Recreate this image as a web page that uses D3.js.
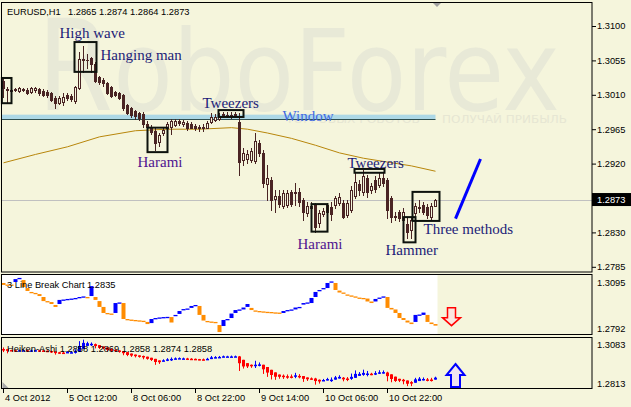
<!DOCTYPE html>
<html><head><meta charset="utf-8">
<script src="https://cdn.jsdelivr.net/npm/d3@7"></script>
<style>html,body{margin:0;padding:0;background:#F5F5DC;}svg{display:block;}</style>
</head><body>
<svg id="c" width="631" height="407"></svg>
<script>
// ---------- DATA (EURUSD H1) ----------
const opens = [
1.3028,1.3018,1.3016,1.3016,1.3015,1.3018,1.3016,1.3014,1.3016,1.3018,
1.3015,1.3014,1.3012,1.3006,1.2999,1.3000,1.3010,1.3008,1.3002,1.3019,
1.3057,1.3056,1.3058,1.3050,1.3033,1.3029,1.3025,1.3020,1.3014,1.3012,
1.3010,1.2997,1.2993,1.2989,1.2986,1.2985,1.2972,1.2968,1.2963,1.2948,
1.2960,1.2967,1.2968,1.2970,1.2976,1.2972,1.2973,1.2972,1.2969,1.2968,
1.2967,1.2967,1.2974,1.2977,1.2978,1.2985,1.2984,1.2984,1.2985,1.2974,
1.2925,1.2926,1.2925,1.2924,1.2947,1.2934,1.2893,1.2899,1.2874,1.2878,
1.2865,1.2866,1.2883,1.2882,1.2883,1.2872,1.2855,1.2865,1.2866,1.2842,
1.2854,1.2857,1.2863,1.2866,1.2868,1.2868,1.2853,1.2859,1.2878,1.2893,
1.2883,1.2901,1.2886,1.2899,1.2892,1.2901,1.2899,1.2875,1.2850,1.2857,
1.2846,1.2841,1.2833,1.2855,1.2862,1.2866,1.2863,1.2850,1.2865];
const highs = [
1.3032,1.3020,1.3019,1.3019,1.3020,1.3019,1.3019,1.3020,1.3020,1.3019,
1.3018,1.3016,1.3014,1.3008,1.3008,1.3012,1.3012,1.3011,1.3022,1.3066,
1.3074,1.3063,1.3059,1.3053,1.3035,1.3032,1.3027,1.3021,1.3015,1.3014,
1.3011,1.2998,1.2994,1.2990,1.2988,1.2988,1.2976,1.2970,1.2966,1.2960,
1.2968,1.2974,1.2978,1.2978,1.2978,1.2977,1.2976,1.2974,1.2972,1.2970,
1.2972,1.2976,1.2986,1.2985,1.2986,1.2988,1.2987,1.2988,1.2988,1.2986,
1.2940,1.2938,1.2940,1.2960,1.2951,1.2938,1.2918,1.2902,1.2886,1.2886,
1.2886,1.2886,1.2886,1.2895,1.2888,1.2875,1.2870,1.2870,1.2868,1.2859,
1.2862,1.2868,1.2870,1.2878,1.2882,1.2872,1.2872,1.2891,1.2908,1.2899,
1.2912,1.2905,1.2895,1.2904,1.2909,1.2908,1.2901,1.2878,1.2857,1.2859,
1.2862,1.2849,1.2850,1.2868,1.2872,1.2870,1.2867,1.2868,1.2874];
const lows = [
1.3007,1.3000,1.3014,1.3015,1.3014,1.3015,1.3011,1.3012,1.3014,1.3010,
1.3008,1.3007,1.3002,1.2993,1.2998,1.2997,1.3003,1.3002,1.2999,1.3018,
1.3040,1.3045,1.3040,1.3027,1.3024,1.3022,1.3011,1.3007,1.3008,1.3004,
1.2990,1.2985,1.2981,1.2978,1.2977,1.2968,1.2966,1.2959,1.2938,1.2943,
1.2958,1.2958,1.2959,1.2969,1.2970,1.2969,1.2964,1.2966,1.2964,1.2963,
1.2963,1.2966,1.2973,1.2976,1.2977,1.2981,1.2981,1.2980,1.2981,1.2905,
1.2918,1.2921,1.2922,1.2921,1.2930,1.2889,1.2873,1.2859,1.2857,1.2863,
1.2862,1.2863,1.2865,1.2866,1.2865,1.2846,1.2851,1.2857,1.2831,1.2837,
1.2851,1.2854,1.2846,1.2862,1.2866,1.2849,1.2850,1.2857,1.2875,1.2879,
1.2879,1.2876,1.2882,1.2883,1.2889,1.2891,1.2849,1.2844,1.2846,1.2845,
1.2833,1.2823,1.2823,1.2851,1.2857,1.2854,1.2849,1.2848,1.2864];
const closes = [
1.3019,1.3016,1.3015,1.3017,1.3019,1.3016,1.3012,1.3019,1.3019,1.3012,
1.3010,1.3010,1.3003,1.2999,1.3006,1.3007,1.3006,1.3004,1.3020,1.3057,
1.3056,1.3055,1.3050,1.3028,1.3027,1.3025,1.3012,1.3008,1.3010,1.3006,
1.2993,1.2986,1.2984,1.2982,1.2980,1.2972,1.2968,1.2961,1.2947,1.2958,
1.2964,1.2972,1.2976,1.2976,1.2973,1.2974,1.2966,1.2967,1.2966,1.2966,
1.2968,1.2973,1.2981,1.2981,1.2982,1.2983,1.2983,1.2982,1.2983,1.2922,
1.2934,1.2933,1.2936,1.2950,1.2934,1.2895,1.2901,1.2873,1.2878,1.2867,
1.2882,1.2882,1.2867,1.2883,1.2870,1.2857,1.2865,1.2862,1.2837,1.2855,
1.2858,1.2866,1.2854,1.2875,1.2876,1.2850,1.2868,1.2886,1.2896,1.2886,
1.2904,1.2883,1.2891,1.2887,1.2901,1.2895,1.2859,1.2850,1.2851,1.2849,
1.2857,1.2831,1.2846,1.2865,1.2863,1.2857,1.2853,1.2865,1.2873];

// moving average, read at selected bars
const maBars   = [0,8,16,24,33,41,49,57,61,66,72,78,84,90,96,102,108];
const maValues = [1.2921,1.2932,1.2942,1.2955,1.2963,1.2965,1.2965,1.2967,1.2965,1.2960,1.2953,1.2944,1.2934,1.2927,1.2922,1.2917,1.2910];

// 3 Line Break: segment per bar (from -> to)
const lbFrom = [
1.3054,1.3046,1.3046,1.3059,1.3074,1.3069,1.3028,1.3008,1.3003,1.2997,
1.2982,1.2961,1.2956,1.2941,1.2946,1.2967,1.2969,1.2972,1.2974,1.2977,
1.2982,1.2982,1.2987,1.2982,1.2961,1.2931,1.2900,1.2897,1.2900,1.2951,
1.2951,1.2869,1.2866,1.2864,1.2862,1.2860,1.2854,1.2848,1.2872,1.2874,
1.2877,1.2879,1.2879,1.2884,1.2895,1.2915,1.2920,1.2926,1.2938,1.2936,
1.2890,1.2859,1.2856,1.2854,1.2838,1.2833,1.2864,1.2874,1.2900,1.2915,
1.2918,1.2931,1.2926,1.2913,1.2910,1.2908,1.2906,1.2905,1.2903,1.2902,
1.2900,1.2910,1.2915,1.2918,1.2928,1.2943,1.2951,1.2951,1.2982,1.3013,
1.3023,1.3028,1.3059,1.3054,1.3015,1.3005,1.2995,1.2990,1.2985,1.2979,
1.2977,1.2974,1.2959,1.2959,1.2977,1.2982,1.2982,1.2926,1.2918,1.2900,
1.2874,1.2861,1.2851,1.2854,1.2890,1.2890,1.2890,1.2851,1.2843];
const lbTo = [
1.3044,1.3044,1.3044,1.3074,1.3080,1.3033,1.3013,1.3003,1.3000,1.2987,
1.2961,1.2959,1.2946,1.2931,1.2967,1.2969,1.2972,1.2974,1.2977,1.2982,
1.2985,1.2979,1.3038,1.2967,1.2931,1.2900,1.2897,1.2895,1.2951,1.2954,
1.2869,1.2866,1.2864,1.2862,1.2860,1.2854,1.2843,1.2869,1.2874,1.2877,
1.2879,1.2880,1.2851,1.2890,1.2910,1.2920,1.2923,1.2936,1.2941,1.2890,
1.2861,1.2856,1.2854,1.2851,1.2802,1.2864,1.2869,1.2897,1.2915,1.2918,
1.2928,1.2946,1.2915,1.2910,1.2908,1.2906,1.2905,1.2903,1.2902,1.2900,
1.2910,1.2915,1.2918,1.2928,1.2931,1.2951,1.2954,1.2977,1.3008,1.3018,
1.3028,1.3054,1.3062,1.3018,1.3005,1.3000,1.2992,1.2987,1.2982,1.2977,
1.2974,1.2959,1.2951,1.2972,1.2979,1.2985,1.2926,1.2918,1.2900,1.2874,
1.2864,1.2851,1.2843,1.2890,1.2892,1.2902,1.2854,1.2843,1.2835];

const priceTicks = [1.3100,1.3055,1.3010,1.2965,1.2920,1.2830,1.2785];
const lastPrice = 1.2873;
const lbScaleLabels = [1.3095,1.2792];
const haScaleLabels = [1.3083,1.2813];
const haTitleValues = ["1.2858","1.2869","1.2858","1.2874","1.2858"];
const timeLabels = ["4 Oct 2012","5 Oct 12:00","8 Oct 06:00","8 Oct 22:00","9 Oct 14:00","10 Oct 06:00","10 Oct 22:00"];
const timeLabelBars = [0,16,32,48,64,80,96];

// window band (price range)
const windowHigh = 1.2984, windowLow = 1.2978;

// pattern annotations (bar ranges and price ranges)
const boxFrom = [-0.4,17.75,36,53.75,87.75,77,100,102.25];
const boxTo   = [2,23.25,41,60,95.25,81,103,109];
const boxHigh = [1.3032,1.3079,1.2967,1.2990,1.2913,1.2867,1.2850,1.2883];
const boxLow  = [1.2999,1.3040,1.2935,1.2981,1.2908,1.2831,1.2817,1.2845];
const labelTexts  = ["High wave","Hanging man","Tweezers","Window","Harami","Tweezers","Harami","Hammer","Three methods"];
const labelBars   = [14,24.25,49.75,69.75,33.5,86,73.5,95.5,105];
const labelPrices = [1.3084,1.3056,1.2993,1.2976,1.2916,1.2914,1.2808,1.2800,1.2828];
const trendBars   = [113,119.25];
const trendPrices = [1.2848,1.2926];

// ---------- DRAW ----------
const W=631,H=407, BG="#F5F5DC", CANDLE="#4a2424", SMALL="Liberation Sans", FS=9.3;
const n = closes.length;
const svg = d3.select("#c");
const x = d3.scaleLinear().domain([0,n-1]).range([3.5,435.5]);
const yM = d3.scaleLinear().domain([1.2785,1.3100]).range([266.8,26]);
const yLB = d3.scaleLinear().domain([1.2792,1.3095]).range([334,275]);
const yHA = d3.scaleLinear().domain([1.2813,1.3083]).range([388,338]);

svg.append("rect").attr("width",W).attr("height",H).attr("fill",BG);

// watermark
const wm = svg.append("text").attr("x",37).attr("y",110)
  .attr("font-family","DejaVu Sans").attr("font-size",112).attr("fill","#e8e9d7")
  .attr("textLength",523).attr("lengthAdjust","spacingAndGlyphs");
wm.append("tspan").attr("font-size",126).text("R");
wm.append("tspan").text("oboForex");
svg.append("text").attr("x",286).attr("y",123).attr("font-family","DejaVu Sans").attr("font-size",10.5)
  .attr("fill","#e6e6d3").attr("textLength",134).attr("lengthAdjust","spacingAndGlyphs").text("ТОРГОВЫХ РОБОТОВ");
svg.append("text").attr("x",442).attr("y",123).attr("font-family","DejaVu Sans").attr("font-size",10.5)
  .attr("fill","#e6e6d3").attr("textLength",125).attr("lengthAdjust","spacingAndGlyphs").text("ПОЛУЧАЙ ПРИБЫЛЬ");

// panel 2 white area
svg.append("rect").attr("x",2).attr("y",275).attr("width",x(n-1)+2-2).attr("height",59.5).attr("fill","#ffffff");

// window band
svg.append("rect").attr("x",2).attr("y",yM(windowHigh)).attr("width",x(n-1)-2)
  .attr("height",yM(windowLow)-yM(windowHigh)).attr("fill","#ADD8E6");
svg.append("line").attr("x1",2).attr("x2",x(n-1)).attr("y1",Math.round(yM(windowLow))+0.5).attr("y2",Math.round(yM(windowLow))+0.5)
  .attr("stroke","#2F4F4F").attr("stroke-width",1);

// bid line
svg.append("line").attr("x1",2).attr("x2",592).attr("y1",Math.round(yM(lastPrice))+0.5).attr("y2",Math.round(yM(lastPrice))+0.5)
  .attr("stroke","#C0C0C0").attr("stroke-width",1);

// MA
svg.append("path").datum(maBars.map((b,k)=>[b,maValues[k]]))
  .attr("d",d3.line().x(d=>x(d[0])).y(d=>yM(d[1])))
  .attr("fill","none").attr("stroke","#B8860B").attr("stroke-width",1);

// candles
const idx = d3.range(n);
const cg = svg.append("g");
cg.selectAll("line.w").data(idx).join("line").attr("class","w")
  .attr("x1",i=>x(i)).attr("x2",i=>x(i)).attr("y1",i=>Math.round(yM(highs[i]))).attr("y2",i=>Math.round(yM(lows[i]))+1)
  .attr("stroke",CANDLE).attr("stroke-width",1);
cg.selectAll("rect.b").data(idx).join("rect").attr("class","b")
  .each(function(i){
    const yo=Math.round(yM(opens[i])), yc=Math.round(yM(closes[i]));
    const el=d3.select(this);
    if(closes[i]>opens[i]){
      el.attr("x",x(i)-1).attr("y",yc+0.5).attr("width",2).attr("height",Math.max(yo-yc,1))
        .attr("fill",BG).attr("stroke",CANDLE).attr("stroke-width",1);
    } else {
      el.attr("x",x(i)-1.5).attr("y",yo).attr("width",3).attr("height",Math.max(yc-yo,1)+ (yc===yo?0:1))
        .attr("fill",CANDLE);
    }
  });

// pattern boxes
svg.selectAll("rect.box").data(boxFrom.map((f,k)=>k)).join("rect").attr("class","box")
  .attr("x",k=>x(boxFrom[k])).attr("y",k=>yM(boxHigh[k]))
  .attr("width",k=>x(boxTo[k])-x(boxFrom[k])).attr("height",k=>yM(boxLow[k])-yM(boxHigh[k]))
  .attr("fill","none").attr("stroke","#0d120d").attr("stroke-width",2);

// pattern labels
svg.selectAll("text.lab").data(labelTexts.map((t,k)=>k)).join("text").attr("class","lab")
  .attr("x",k=>x(labelBars[k])).attr("y",k=>yM(labelPrices[k]))
  .attr("font-family","Liberation Serif").attr("font-size",15)
  .attr("fill",k=>labelTexts[k]==="Harami"?"#4f1490":(labelTexts[k]==="Window"?"#4169E1":"#1c1c78"))
  .text(k=>labelTexts[k]);

// trend line
svg.append("line").attr("x1",x(trendBars[0])).attr("y1",yM(trendPrices[0]))
  .attr("x2",x(trendBars[1])).attr("y2",yM(trendPrices[1]))
  .attr("stroke","#0000FF").attr("stroke-width",3);

// 3 line break bars
svg.append("g").selectAll("rect").data(idx).join("rect")
  .attr("x",i=>x(i)-2).attr("width",4)
  .attr("y",i=>yLB(Math.max(lbFrom[i],lbTo[i])))
  .attr("height",i=>Math.max(Math.abs(yLB(lbFrom[i])-yLB(lbTo[i])),1.3))
  .attr("fill",i=>lbTo[i]>lbFrom[i]?"#0000FF":"#FF8C00");

// Heiken Ashi
const haO=[],haC=[],haH=[],haL=[];
for(let i=0;i<n;i++){
  const c=(opens[i]+highs[i]+lows[i]+closes[i])/4;
  const o= i===0 ? (opens[0]+closes[0])/2 : (haO[i-1]+haC[i-1])/2;
  haO.push(o); haC.push(c); haH.push(Math.max(highs[i],o,c)); haL.push(Math.min(lows[i],o,c));
}
const hg=svg.append("g");
hg.selectAll("line").data(idx).join("line")
  .attr("x1",i=>x(i)).attr("x2",i=>x(i)).attr("y1",i=>yHA(haH[i])).attr("y2",i=>yHA(haL[i]))
  .attr("stroke",i=>haC[i]>=haO[i]?"#0000FF":"#FF0000").attr("stroke-width",1);
hg.selectAll("rect").data(idx).join("rect")
  .attr("x",i=>x(i)-1.5).attr("width",3)
  .attr("y",i=>yHA(Math.max(haO[i],haC[i])))
  .attr("height",i=>Math.max(Math.abs(yHA(haO[i])-yHA(haC[i])),1.5))
  .attr("fill",i=>haC[i]>=haO[i]?"#0000FF":"#FF0000");

// arrows
const tipD=[x(112), yLB(lbTo[n-1])];
svg.append("path").attr("transform",`translate(${tipD[0]},${tipD[1]})`)
  .attr("d","M-4,-18L4,-18L4,-8L9,-8L0,0L-9,-8L-4,-8Z")
  .attr("fill","#fbe6e0").attr("stroke","#FF0000").attr("stroke-width",1.5);
svg.append("path").attr("transform",`translate(${x(113)},${yHA(haScaleLabels[0])+26})`)
  .attr("d","M0,0L9,11L4.5,11L4.5,23L-4.5,23L-4.5,11L-9,11Z")
  .attr("fill","#f0e4f0").attr("stroke","#0000FF").attr("stroke-width",2);

// gray markers
svg.append("path").attr("d","M433,3L441,3L437,7Z").attr("fill","#A0A0A0");
svg.append("path").attr("d","M2.5,388L2.5,382L8.5,388Z").attr("fill","#A9A9A9");

// panel frames
[[2,272],[274.5,334.5],[337.5,388.5]].forEach(([t,b],k)=>{
  svg.append("rect").attr("x",1.5).attr("y",k===0?2.5:t).attr("width",590.5).attr("height",b-(k===0?2.5:t))
    .attr("fill","none").attr("stroke","#000").attr("stroke-width",1);
});

// right price axis
const ax = svg.append("g").attr("transform","translate(592,0)")
  .call(d3.axisRight(yM).tickValues(priceTicks).tickSize(4).tickFormat(d3.format(".4f")));
ax.select(".domain").remove();
ax.selectAll("line").attr("stroke","#000");
ax.selectAll("text").attr("x",5).attr("font-family",SMALL).attr("font-size",FS).attr("fill","#000");

// current price box
const yl = yM(lastPrice);
svg.append("rect").attr("x",592).attr("y",yl-6.5).attr("width",39).attr("height",13).attr("fill","#000");
svg.append("text").attr("x",597).attr("y",yl).attr("dy","0.35em").attr("font-family",SMALL).attr("font-size",FS)
  .attr("fill","#fff").text(d3.format(".4f")(lastPrice));

// sub-panel scale labels
const sub = [[lbScaleLabels[0], yLB(lbScaleLabels[0])+10.5],[lbScaleLabels[1], yLB(lbScaleLabels[1])-2.5],
             [haScaleLabels[0], yHA(haScaleLabels[0])+9.5],[haScaleLabels[1], yHA(haScaleLabels[1])-1.5]];
svg.selectAll("text.sub").data(sub).join("text").attr("class","sub")
  .attr("x",597).attr("y",d=>d[1]).attr("font-family",SMALL).attr("font-size",FS).attr("fill","#000")
  .text(d=>d3.format(".4f")(d[0]));

// time axis
const tg = svg.append("g");
tg.selectAll("line").data(timeLabelBars).join("line")
  .attr("x1",b=>Math.floor(x(b))+0.5).attr("x2",b=>Math.floor(x(b))+0.5).attr("y1",388).attr("y2",393)
  .attr("stroke","#000");
tg.selectAll("text").data(timeLabelBars).join("text")
  .attr("x",b=>x(b)+1.5).attr("y",401).attr("font-family",SMALL).attr("font-size",FS).attr("fill","#000")
  .text((b,k)=>timeLabels[k]);

// titles
const f4 = d3.format(".4f");
svg.append("text").attr("x",7).attr("y",14.5).attr("font-family",SMALL).attr("font-size",FS).attr("fill","#000").text("EURUSD,H1");
svg.append("text").attr("x",68).attr("y",14.5).attr("font-family",SMALL).attr("font-size",FS).attr("fill","#000")
  .text([opens[n-1],highs[n-1],lows[n-1],closes[n-1]].map(f4).join(" "));
svg.append("text").attr("x",7).attr("y",288).attr("font-family",SMALL).attr("font-size",FS).attr("fill","#000")
  .text("3 Line Break Chart " + f4(lbTo[n-1]));
svg.append("text").attr("x",7).attr("y",351.5).attr("font-family",SMALL).attr("font-size",FS).attr("fill","#000")
  .text("Heiken-Ashi " + haTitleValues.join(" "));
</script>
</body></html>
